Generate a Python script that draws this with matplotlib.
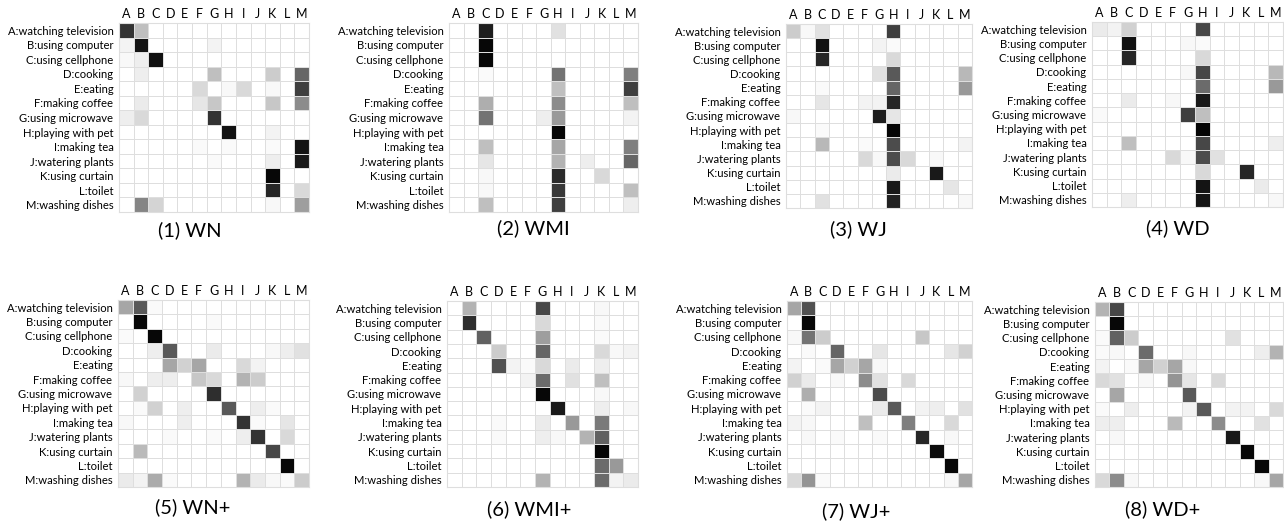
import matplotlib
matplotlib.use("Agg")
import matplotlib.pyplot as plt
import numpy as np

plt.rcParams['font.family'] = ['Lato', 'DejaVu Sans']

letters = list("ABCDEFGHIJKLM")
activities = ["A:watching television", "B:using computer", "C:using cellphone",
              "D:cooking", "E:eating", "F:making coffee", "G:using microwave",
              "H:playing with pet", "I:making tea", "J:watering plants",
              "K:using curtain", "L:toilet", "M:washing dishes"]

# darkness of each cell in percent, rows = true activity, columns = predicted
wn = [
    [80, 25, 0, 0, 0, 0, 0, 0, 0, 0, 0, 0, 0],
    [5, 92, 0, 0, 0, 0, 5, 0, 0, 0, 0, 0, 0],
    [3, 7, 93, 0, 0, 0, 0, 0, 0, 0, 0, 0, 0],
    [0, 7, 0, 0, 0, 0, 25, 0, 0, 0, 20, 0, 60],
    [0, 0, 0, 0, 0, 15, 0, 3, 15, 0, 3, 0, 75],
    [0, 8, 0, 0, 0, 10, 22, 0, 0, 0, 22, 0, 45],
    [7, 15, 0, 0, 0, 0, 80, 0, 0, 0, 0, 0, 0],
    [0, 0, 0, 0, 0, 0, 0, 93, 0, 0, 5, 0, 0],
    [0, 0, 0, 0, 0, 2, 0, 2, 0, 0, 2, 0, 92],
    [0, 0, 0, 0, 0, 0, 2, 0, 0, 0, 7, 0, 90],
    [0, 0, 0, 0, 0, 0, 0, 0, 0, 0, 97, 0, 0],
    [0, 0, 0, 0, 0, 0, 0, 0, 0, 0, 85, 0, 15],
    [0, 48, 17, 0, 0, 0, 0, 0, 0, 0, 3, 0, 38],
]
wmi = [
    [0, 0, 88, 0, 0, 0, 0, 12, 0, 0, 0, 0, 0],
    [0, 0, 97, 0, 0, 0, 0, 0, 0, 0, 0, 0, 0],
    [0, 0, 97, 0, 0, 0, 0, 0, 0, 0, 0, 0, 0],
    [0, 0, 2, 0, 0, 0, 0, 55, 0, 0, 0, 0, 50],
    [0, 0, 0, 0, 0, 0, 0, 25, 0, 0, 0, 0, 75],
    [0, 0, 32, 0, 0, 0, 0, 45, 0, 0, 0, 0, 25],
    [0, 0, 55, 0, 0, 0, 7, 40, 0, 0, 0, 0, 5],
    [0, 0, 0, 0, 0, 0, 0, 98, 0, 0, 0, 0, 0],
    [0, 0, 25, 0, 0, 0, 0, 35, 0, 0, 0, 0, 50],
    [0, 0, 10, 0, 0, 0, 0, 30, 0, 7, 0, 0, 60],
    [0, 0, 3, 0, 0, 0, 0, 83, 0, 0, 15, 0, 0],
    [0, 0, 3, 0, 0, 0, 0, 78, 0, 0, 0, 0, 25],
    [0, 0, 25, 0, 0, 0, 0, 75, 0, 0, 0, 0, 7],
]
wj = [
    [20, 3, 12, 0, 0, 0, 0, 75, 0, 0, 0, 0, 0],
    [0, 0, 93, 0, 0, 0, 5, 2, 0, 0, 0, 0, 0],
    [0, 0, 85, 0, 0, 0, 0, 15, 0, 0, 0, 0, 0],
    [0, 0, 0, 0, 0, 0, 12, 65, 0, 0, 0, 0, 28],
    [0, 0, 2, 0, 0, 0, 0, 60, 0, 0, 0, 0, 40],
    [0, 0, 10, 0, 0, 5, 5, 85, 0, 0, 0, 0, 0],
    [3, 0, 0, 0, 0, 0, 88, 10, 0, 0, 0, 0, 0],
    [0, 0, 2, 0, 0, 0, 0, 98, 0, 0, 0, 0, 0],
    [0, 0, 28, 0, 0, 2, 0, 70, 0, 0, 0, 0, 5],
    [0, 0, 0, 0, 0, 15, 3, 70, 15, 0, 3, 0, 0],
    [0, 0, 0, 0, 0, 0, 0, 8, 0, 0, 90, 0, 0],
    [0, 0, 0, 0, 0, 0, 0, 90, 0, 0, 0, 10, 0],
    [0, 0, 12, 0, 0, 0, 0, 87, 0, 0, 0, 0, 3],
]
wd = [
    [8, 5, 18, 0, 0, 0, 0, 72, 0, 0, 0, 0, 0],
    [0, 0, 93, 0, 0, 0, 3, 2, 0, 0, 0, 0, 0],
    [0, 0, 85, 0, 0, 0, 0, 15, 0, 0, 0, 0, 0],
    [0, 0, 0, 0, 0, 0, 3, 72, 0, 0, 0, 0, 28],
    [0, 0, 0, 0, 0, 0, 0, 58, 0, 0, 0, 0, 40],
    [0, 0, 8, 0, 0, 3, 0, 90, 0, 0, 0, 0, 0],
    [2, 0, 0, 0, 0, 0, 75, 25, 0, 0, 0, 0, 0],
    [0, 0, 0, 0, 0, 0, 0, 98, 0, 0, 0, 0, 0],
    [0, 0, 25, 0, 0, 0, 0, 72, 0, 0, 0, 0, 7],
    [0, 0, 0, 0, 0, 15, 3, 70, 12, 0, 0, 0, 0],
    [0, 0, 0, 0, 0, 0, 0, 15, 0, 0, 85, 0, 0],
    [0, 0, 0, 0, 0, 0, 0, 92, 0, 0, 0, 8, 0],
    [0, 0, 7, 0, 0, 0, 0, 92, 0, 0, 0, 0, 3],
]
wn_plus = [
    [35, 65, 2, 0, 0, 0, 0, 0, 0, 0, 0, 0, 0],
    [0, 97, 0, 0, 0, 0, 2, 0, 0, 0, 0, 0, 0],
    [2, 0, 97, 0, 0, 0, 0, 0, 0, 0, 0, 0, 0],
    [0, 0, 7, 65, 0, 0, 8, 0, 0, 0, 3, 7, 12],
    [0, 0, 0, 35, 18, 35, 0, 0, 15, 5, 0, 0, 0],
    [3, 0, 7, 7, 0, 22, 15, 0, 30, 20, 0, 0, 0],
    [0, 18, 0, 0, 0, 0, 82, 0, 0, 0, 0, 0, 0],
    [0, 2, 18, 0, 7, 0, 0, 65, 0, 7, 2, 0, 0],
    [3, 0, 0, 0, 7, 0, 0, 0, 80, 2, 0, 10, 0],
    [0, 0, 0, 2, 0, 0, 2, 0, 7, 80, 0, 15, 0],
    [0, 27, 0, 0, 0, 0, 0, 0, 0, 0, 72, 0, 0],
    [0, 0, 0, 0, 0, 0, 0, 0, 0, 0, 0, 97, 0],
    [8, 5, 33, 2, 0, 0, 0, 0, 30, 8, 3, 2, 20],
]
wmi_plus = [
    [0, 30, 0, 0, 0, 0, 72, 0, 0, 0, 3, 0, 0],
    [0, 82, 0, 0, 0, 0, 15, 0, 0, 0, 2, 0, 0],
    [0, 0, 62, 0, 0, 0, 38, 0, 0, 0, 2, 0, 0],
    [0, 0, 0, 20, 0, 0, 60, 0, 0, 0, 15, 3, 5],
    [0, 0, 0, 68, 5, 2, 15, 0, 8, 0, 7, 0, 0],
    [0, 0, 0, 0, 0, 5, 58, 0, 12, 0, 25, 0, 0],
    [0, 0, 0, 0, 0, 0, 97, 0, 0, 0, 3, 0, 0],
    [0, 0, 0, 0, 0, 0, 0, 90, 0, 0, 7, 0, 3],
    [0, 0, 0, 2, 0, 0, 8, 0, 40, 0, 52, 0, 0],
    [0, 0, 0, 2, 0, 0, 7, 3, 0, 30, 62, 0, 0],
    [0, 0, 0, 0, 0, 0, 0, 0, 0, 0, 98, 0, 0],
    [0, 0, 0, 0, 0, 0, 0, 0, 0, 0, 58, 40, 0],
    [0, 0, 0, 0, 0, 0, 30, 0, 0, 0, 58, 5, 8],
]
wj_plus = [
    [35, 68, 0, 0, 0, 0, 0, 0, 0, 0, 0, 0, 0],
    [0, 97, 0, 0, 0, 0, 0, 0, 0, 0, 0, 0, 0],
    [3, 55, 20, 0, 0, 0, 0, 0, 0, 22, 0, 0, 0],
    [0, 2, 0, 60, 0, 0, 10, 0, 0, 0, 0, 10, 18],
    [5, 0, 2, 35, 18, 35, 3, 0, 0, 0, 0, 0, 0],
    [18, 8, 0, 3, 0, 45, 12, 0, 15, 0, 0, 0, 0],
    [0, 32, 0, 0, 0, 0, 70, 0, 0, 0, 0, 0, 0],
    [0, 2, 5, 0, 0, 0, 8, 65, 0, 5, 7, 0, 12],
    [5, 3, 0, 0, 0, 25, 0, 0, 50, 0, 0, 15, 0],
    [0, 3, 0, 2, 0, 0, 2, 0, 0, 85, 0, 3, 0],
    [0, 0, 0, 0, 0, 0, 0, 0, 0, 0, 95, 0, 0],
    [0, 0, 0, 0, 0, 0, 0, 0, 0, 0, 0, 97, 0],
    [15, 42, 2, 0, 0, 0, 0, 0, 0, 0, 0, 3, 35],
]
wd_plus = [
    [30, 72, 0, 0, 0, 0, 0, 0, 0, 0, 0, 0, 0],
    [0, 97, 0, 0, 0, 0, 0, 0, 0, 0, 0, 0, 0],
    [2, 62, 20, 0, 0, 0, 0, 0, 0, 12, 0, 0, 0],
    [2, 3, 0, 58, 0, 0, 3, 0, 0, 0, 0, 7, 30],
    [5, 0, 2, 35, 18, 35, 3, 0, 0, 0, 0, 0, 0],
    [15, 12, 0, 3, 0, 42, 10, 0, 15, 0, 0, 0, 0],
    [0, 35, 0, 0, 0, 0, 65, 0, 0, 0, 0, 0, 0],
    [2, 0, 7, 0, 0, 0, 5, 65, 0, 5, 5, 0, 15],
    [7, 7, 0, 0, 0, 27, 0, 0, 45, 0, 0, 12, 0],
    [0, 3, 0, 0, 0, 0, 0, 0, 0, 90, 0, 0, 0],
    [0, 0, 0, 0, 0, 0, 0, 0, 0, 0, 97, 0, 0],
    [0, 0, 0, 0, 0, 0, 0, 0, 0, 0, 0, 97, 0],
    [15, 45, 3, 0, 0, 0, 0, 0, 0, 0, 0, 3, 35],
]

titles = ["(1) WN", "(2) WMI", "(3) WJ", "(4) WD",
          "(5) WN+", "(6) WMI+", "(7) WJ+", "(8) WD+"]
matrices = [wn, wmi, wj, wd, wn_plus, wmi_plus, wj_plus, wd_plus]

W, H = 1284, 522
# grid boxes in pixels: left, top, right, bottom
boxes = [(119, 23, 309, 212), (449, 23, 638, 212), (786, 24, 972, 208), (1092, 22, 1283, 207),
         (118, 300, 309, 487), (447, 301, 638, 487), (787, 301, 972, 487), (1095, 302, 1283, 487)]
# title centres in pixels
title_pos = [(190, 230), (533, 228), (858, 229), (1178, 228),
             (193, 507), (529, 509), (856, 511), (1163, 509)]

fig = plt.figure(figsize=(W / 100, H / 100), dpi=100)
gridc = '#dedede'

for m, t, b, tp in zip(matrices, titles, boxes, title_pos):
    l, top, r, bot = b
    ax = fig.add_axes([l / W, 1 - bot / H, (r - l) / W, (bot - top) / H])
    ax.pcolormesh(np.array(m) / 100.0, cmap='gray_r', vmin=0, vmax=1,
                  edgecolors=gridc, linewidth=0.5)
    ax.set_xlim(0, 13)
    ax.set_ylim(13, 0)
    ax.set_xticks(np.arange(13) + 0.5)
    ax.set_xticklabels(letters, fontsize=9)
    ax.set_yticks(np.arange(13) + 0.5)
    ax.set_yticklabels(activities, fontsize=8.1)
    ax.xaxis.tick_top()
    ax.tick_params(length=0, pad=4)
    ax.tick_params(axis='x', pad=2)
    for s in ax.spines.values():
        s.set_color(gridc)
        s.set_linewidth(0.8)
    fig.text(tp[0] / W, 1 - tp[1] / H, t, ha='center', va='center', fontsize=14.5)

fig.savefig('out.png', dpi=100)
